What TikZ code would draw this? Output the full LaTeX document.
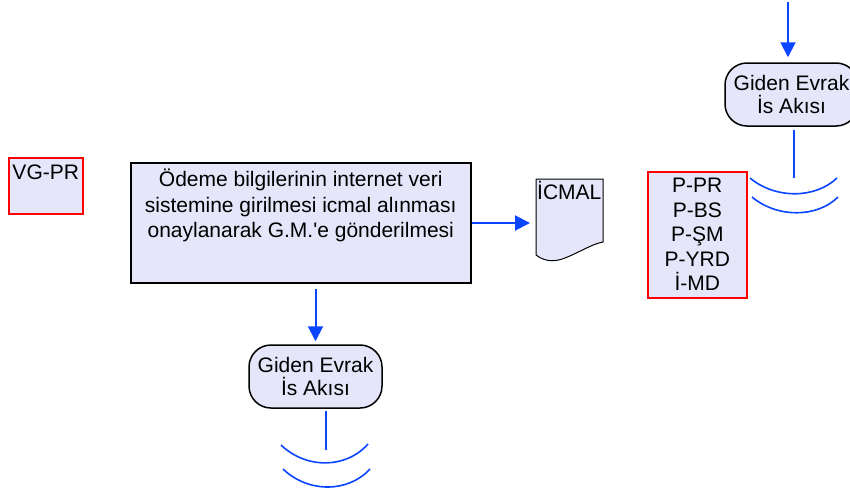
\documentclass[tikz,border=0pt]{standalone}
\usepackage{fontspec}
\setmainfont{Liberation Sans}[Ligatures=TeXOff]
\usetikzlibrary{arrows.meta}
\definecolor{boxfill}{RGB}{230,230,250}
\definecolor{flowblue}{RGB}{10,70,255}
\definecolor{redline}{RGB}{255,0,0}
\begin{document}
\begin{tikzpicture}[x=1pt,y=-1pt,
  procbox/.style={draw=black, line width=1.5pt, fill=boxfill, inner sep=0pt, font=\fontsize{21}{25.5}\selectfont},
  redbox/.style={draw=redline, line width=1.5pt, fill=boxfill, inner sep=0pt, font=\fontsize{21}{24.5}\selectfont},
  term/.style={draw=black, line width=1.5pt, fill=boxfill, rounded corners=22pt, inner sep=0pt, minimum width=133pt, minimum height=63pt, align=center, font=\fontsize{21}{23.5}\selectfont},
  doctext/.style={inner sep=0pt, font=\fontsize{21}{24}\selectfont},
  flow/.style={draw=flowblue, line width=2pt},
  flowarrow/.style={flow, -{Triangle[length=15pt,width=15pt]}}
]
\useasboundingbox (0,0) rectangle (850,493);

% main process box
\node[procbox, anchor=north west] (main) at (130,162)
  {\parbox[c][120pt][t]{340pt}{\centering\rule{0pt}{24pt}Ödeme bilgilerinin internet veri\\sistemine girilmesi icmal alınması\\onaylanarak G.M.'e gönderilmesi}};

% VG-PR box
\node[redbox, anchor=north west] (vg) at (8,157)
  {\parbox[c][56pt][t]{74pt}{\centering\rule{0pt}{22pt}VG-PR}};

% P-PR list box
\node[redbox, anchor=north west] (plist) at (647,171)
  {\parbox[c][126pt][t]{99pt}{\centering\rule{0pt}{21pt}P-PR\\P-BS\\P-ŞM\\P-YRD\\İ-MD}};

% ICMAL document
\draw[black, line width=1pt, fill=boxfill]
  (536,179) -- (603,179) -- (603,242)
  .. controls (592,244) and (580,252) .. (565,258)
  .. controls (555,262) and (545,262) .. (536,255) -- cycle;
\node[doctext, anchor=base west] (icmal) at (537,199) {İCMAL};
\coordinate (icmalin) at (536,223);

% terminators
\node[term] (bterm) at (315.5,376.5) {Giden Evrak\\İs Akısı};
\node[term] (tterm) at (791.5,94.5) {Giden Evrak\\İs Akısı};

% connectors
\draw[flowarrow, shorten >=6pt] (main.east |- icmalin) -- (icmalin);
\draw[flowarrow, shorten <=5pt, shorten >=3pt] (bterm.north |- main.south) -- (bterm.north);
\coordinate (topin) at (788,2);
\draw[flowarrow, shorten >=5pt] (topin) -- (topin |- tterm.north);

\coordinate (tout) at (794,178);
\draw[flow, shorten <=3pt] (tout |- tterm.south) -- (tout);
\coordinate (bout) at (326,450);
\draw[flow, shorten <=2pt] (bout |- bterm.south) -- (bout);

% wave arcs
\draw[flow, line width=1.6pt] (750,178) .. controls (775,199) and (815,199) .. (837,178);
\draw[flow, line width=1.6pt] (752,197) .. controls (777,218) and (817,218) .. (838,197);
\draw[flow, line width=1.6pt] (281,445) .. controls (306,469) and (346,469) .. (368,444);
\draw[flow, line width=1.6pt] (283,469) .. controls (308,493) and (348,493) .. (370,469);
\end{tikzpicture}
\end{document}
